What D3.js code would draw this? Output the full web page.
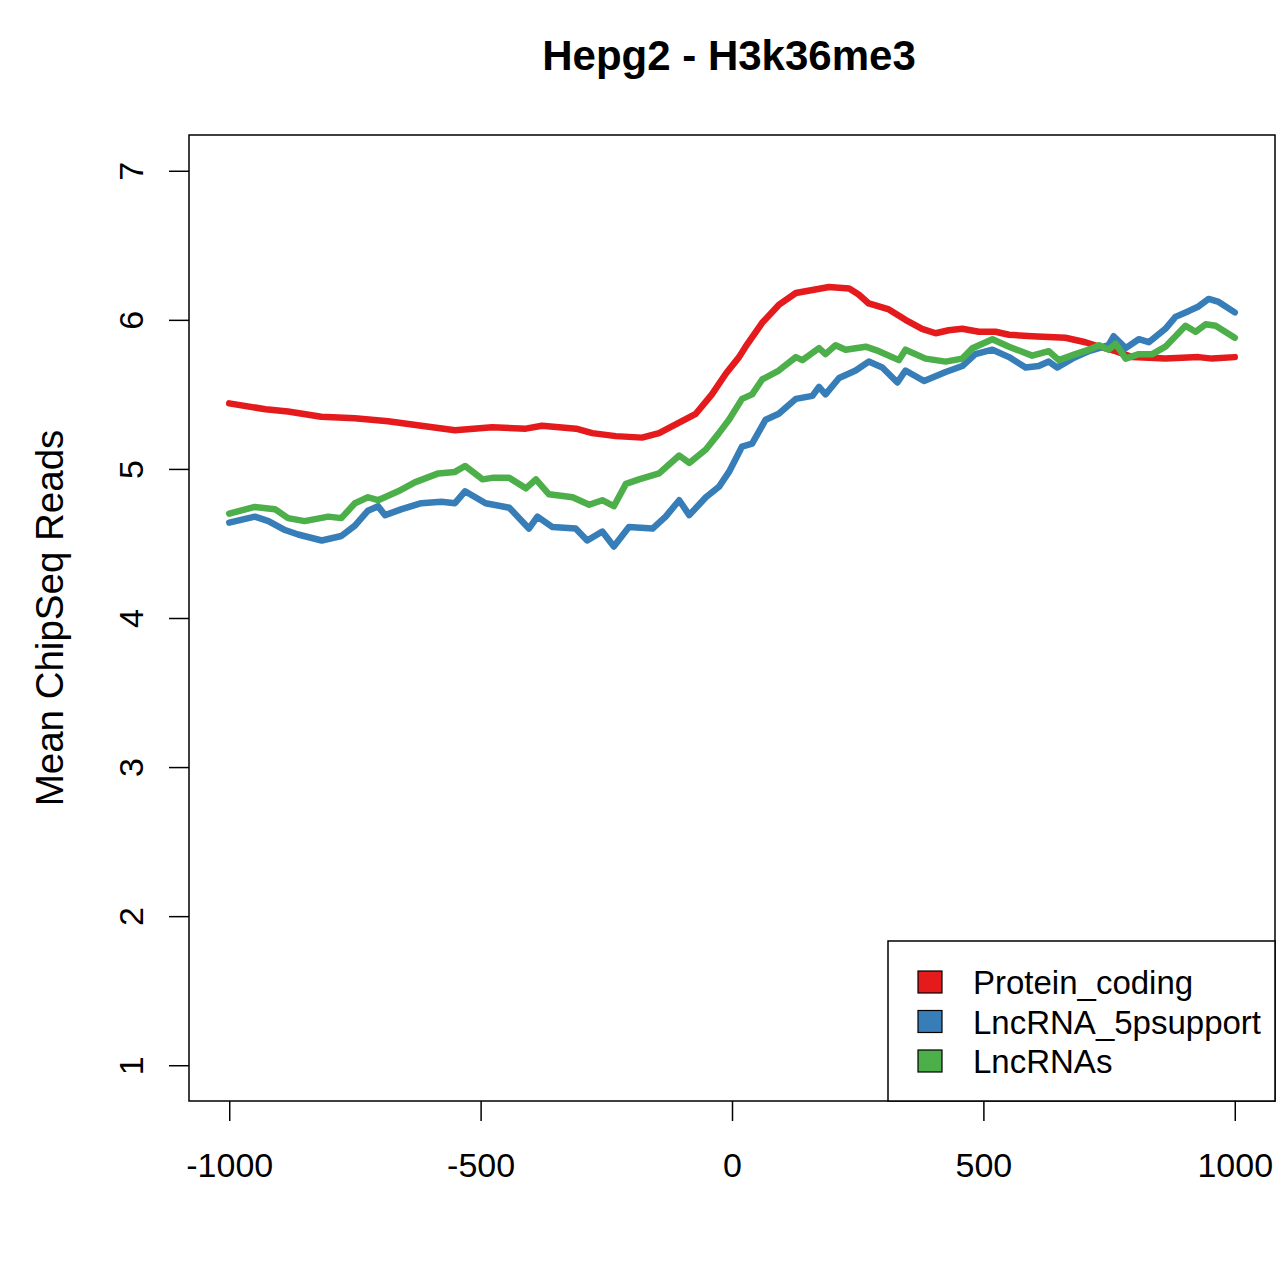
<!DOCTYPE html>
<html>
<head>
<meta charset="utf-8">
<script src="https://cdn.jsdelivr.net/npm/d3@7"></script>
<style>
  body { margin: 0; background: #fff; }
  text { font-family: "Liberation Sans", Arial, Helvetica, sans-serif; fill: #000; }
</style>
</head>
<body>
<script>
// values (position, mean reads)
var pcX = [-1000,-928,-883,-817,-750,-684,-618,-551,-477,-410,-378,-310,-278,-231,-179,-145,-111,-72,-40,-12,14,27,60,93,127,160,193,233,252,272,312,345,378,405,431,458,491,524,551,597,663,703,730,763,796,862,928,955,1000];
var pcY = [5.44,5.40,5.385,5.35,5.34,5.32,5.29,5.26,5.28,5.27,5.29,5.27,5.24,5.22,5.21,5.24,5.30,5.37,5.50,5.64,5.75,5.82,5.98,6.10,6.18,6.20,6.22,6.21,6.17,6.11,6.07,6.00,5.94,5.91,5.93,5.94,5.92,5.92,5.90,5.89,5.88,5.85,5.82,5.79,5.75,5.74,5.75,5.74,5.75];

var lpX = [-1000,-949,-922,-889,-863,-816,-777,-750,-724,-704,-690,-657,-618,-578,-551,-531,-490,-443,-404,-387,-357,-311,-288,-258,-235,-205,-158,-132,-105,-85,-52,-26,-6,20,40,67,93,127,160,173,186,213,246,272,299,329,345,382,425,458,484,518,551,584,610,630,647,677,710,730,749,759,783,809,829,862,882,909,928,948,968,1000];
var lpY = [4.64,4.68,4.65,4.59,4.56,4.52,4.55,4.62,4.72,4.75,4.69,4.73,4.77,4.78,4.77,4.85,4.77,4.74,4.60,4.68,4.61,4.60,4.52,4.58,4.48,4.61,4.60,4.68,4.79,4.69,4.81,4.88,4.98,5.15,5.17,5.33,5.37,5.47,5.49,5.55,5.50,5.61,5.66,5.72,5.68,5.58,5.66,5.59,5.65,5.69,5.77,5.80,5.75,5.68,5.69,5.72,5.68,5.74,5.79,5.81,5.83,5.89,5.81,5.87,5.85,5.94,6.02,6.06,6.09,6.14,6.12,6.05];

var lnX = [-1000,-949,-909,-883,-850,-803,-777,-750,-724,-704,-664,-631,-584,-551,-531,-496,-477,-443,-410,-390,-364,-317,-284,-258,-235,-211,-185,-145,-105,-85,-52,-26,-6,20,40,60,93,127,140,173,186,206,226,266,292,332,345,385,425,458,478,518,551,597,630,650,683,710,730,749,763,783,809,836,862,882,902,922,942,962,1000];
var lnY = [4.70,4.745,4.73,4.67,4.65,4.68,4.67,4.77,4.81,4.79,4.85,4.91,4.97,4.98,5.02,4.93,4.94,4.94,4.87,4.93,4.83,4.81,4.76,4.79,4.75,4.90,4.93,4.97,5.09,5.04,5.13,5.24,5.33,5.47,5.50,5.60,5.66,5.75,5.73,5.81,5.77,5.83,5.80,5.82,5.79,5.73,5.80,5.74,5.72,5.74,5.81,5.87,5.82,5.76,5.79,5.73,5.77,5.80,5.83,5.80,5.84,5.74,5.77,5.77,5.82,5.89,5.96,5.92,5.97,5.96,5.88];

var seriesNames = ["Protein_coding", "LncRNA_5psupport", "LncRNAs"];
var seriesColors = ["#E41A1C", "#377EB8", "#4DAF4A"];
var xTicks = [-1000, -500, 0, 500, 1000];
var yTicks = [1, 2, 3, 4, 5, 6, 7];

var width = 1280, height = 1276;
var box = {left: 189, right: 1275, top: 135, bottom: 1101};

var svg = d3.select("body").append("svg")
    .attr("width", width)
    .attr("height", height);

// R style 4% padding around the data range
var x = d3.scaleLinear().domain([-1080, 1080]).range([box.left, box.right]);
var y = d3.scaleLinear().domain([0.76, 7.24]).range([box.bottom, box.top]);

var series = [
    {name: seriesNames[0], color: seriesColors[0], xs: pcX, ys: pcY},
    {name: seriesNames[1], color: seriesColors[1], xs: lpX, ys: lpY},
    {name: seriesNames[2], color: seriesColors[2], xs: lnX, ys: lnY}
];

var line = d3.line()
    .x(function(d){ return x(d[0]); })
    .y(function(d){ return y(d[1]); });

// lines, drawn in order (red, blue, green on top)
svg.selectAll(".series")
    .data(series)
    .enter()
    .append("path")
    .attr("class", "series")
    .attr("fill", "none")
    .attr("stroke", function(d){ return d.color; })
    .attr("stroke-width", 6.5)
    .attr("stroke-linejoin", "round")
    .attr("stroke-linecap", "round")
    .attr("d", function(d){ return line(d.xs.map(function(v, i){ return [v, d.ys[i]]; })); });

// plot box
svg.append("rect")
    .attr("x", box.left).attr("y", box.top)
    .attr("width", box.right - box.left).attr("height", box.bottom - box.top)
    .attr("fill", "none").attr("stroke", "#000").attr("stroke-width", 1.5);

// plain hyphen for negatives, like R
var plain = function(d){ return String(d); };

// x axis
var xAxis = d3.axisBottom(x).tickValues(xTicks).tickSize(20).tickFormat(plain);
var gx = svg.append("g").attr("transform", "translate(0," + box.bottom + ")").call(xAxis);
gx.select(".domain").remove();
gx.selectAll("line").attr("stroke", "#000").attr("stroke-width", 1.5);
gx.selectAll("text").attr("font-size", 34).attr("font-family", "Liberation Sans, Arial, sans-serif")
    .attr("fill", "#000").attr("dy", 0).attr("y", 76);

// y axis, labels rotated like R's default las=0
var yAxis = d3.axisLeft(y).tickValues(yTicks).tickSize(20).tickFormat(plain);
var gy = svg.append("g").attr("transform", "translate(" + box.left + ",0)").call(yAxis);
gy.select(".domain").remove();
gy.selectAll("line").attr("stroke", "#000").attr("stroke-width", 1.5);
gy.selectAll("text")
    .attr("font-size", 34).attr("font-family", "Liberation Sans, Arial, sans-serif").attr("fill", "#000")
    .attr("x", null).attr("dy", null)
    .attr("text-anchor", "middle")
    .attr("transform", "translate(-46,0) rotate(-90)");

// title
svg.append("text")
    .attr("x", 729).attr("y", 70)
    .attr("text-anchor", "middle")
    .attr("font-size", 42).attr("font-weight", "bold")
    .text("Hepg2 - H3k36me3");

// y label
svg.append("text")
    .attr("transform", "translate(63," + ((box.top + box.bottom) / 2) + ") rotate(-90)")
    .attr("text-anchor", "middle")
    .attr("font-size", 38.5)
    .text("Mean ChipSeq Reads");

// legend
var legend = svg.append("g");
legend.append("rect")
    .attr("x", 888).attr("y", 941)
    .attr("width", box.right - 888).attr("height", box.bottom - 941)
    .attr("fill", "#fff").attr("stroke", "#000").attr("stroke-width", 1.5);

var items = legend.selectAll(".item")
    .data(series)
    .enter()
    .append("g")
    .attr("class", "item")
    .attr("transform", function(d, i){ return "translate(0," + (982 + i * 39.5) + ")"; });

items.append("rect")
    .attr("x", 918).attr("y", -11)
    .attr("width", 24).attr("height", 22)
    .attr("fill", function(d){ return d.color; })
    .attr("stroke", "#000").attr("stroke-width", 1.2);

items.append("text")
    .attr("x", 973).attr("y", 12)
    .attr("font-size", 33)
    .text(function(d){ return d.name; });
</script>
</body>
</html>
